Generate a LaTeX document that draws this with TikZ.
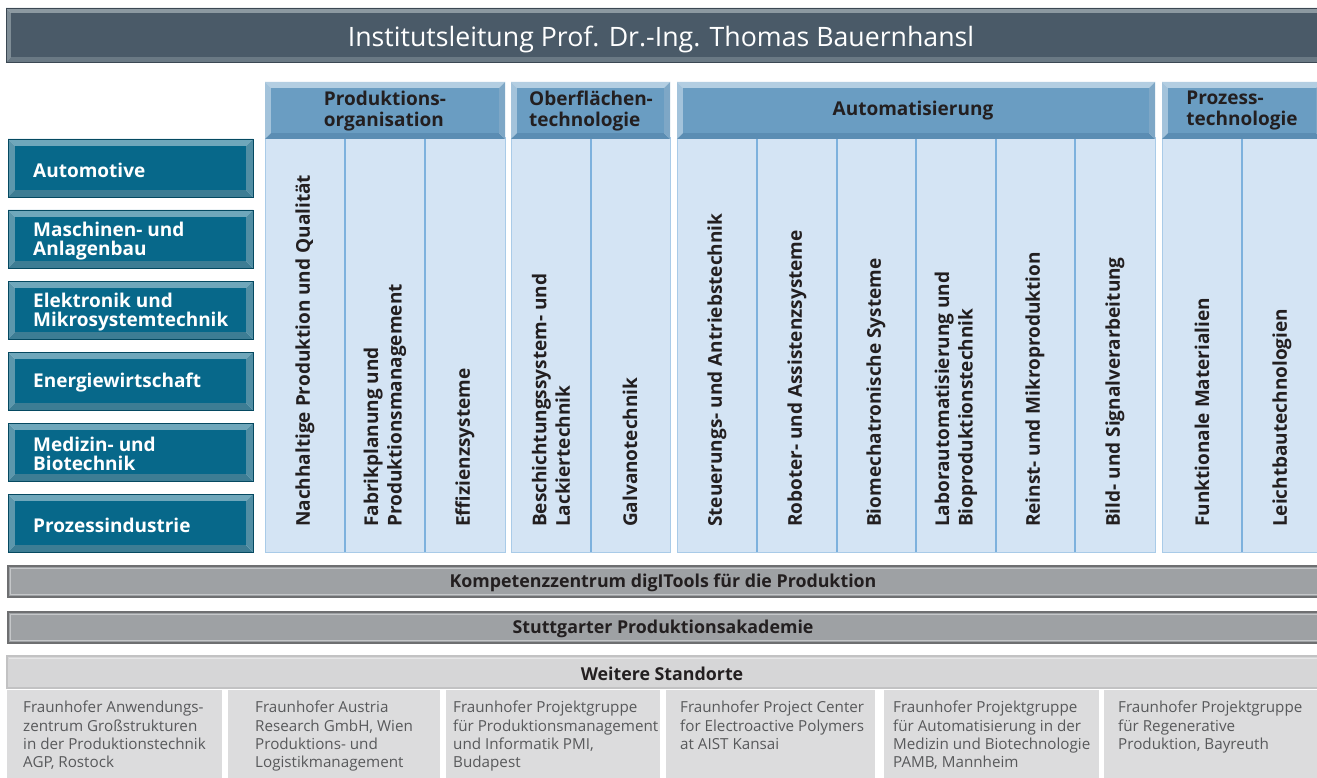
\documentclass[tikz,border=0pt]{standalone}
\usepackage{fontspec}
\setmainfont{Open Sans}
\definecolor{titlebase}{HTML}{4A5A68}
\definecolor{titletop}{HTML}{8C99A1}
\definecolor{titleleft}{HTML}{7F8D96}
\definecolor{titlebot}{HTML}{6A7984}
\definecolor{teal}{HTML}{07688A}
\definecolor{tealtop}{HTML}{6FA7BB}
\definecolor{tealleft}{HTML}{5C97AC}
\definecolor{tealbot}{HTML}{3D7D94}
\definecolor{hdr}{HTML}{6A9DC2}
\definecolor{hdrtop}{HTML}{B3CEE2}
\definecolor{hdrleft}{HTML}{A3C3DB}
\definecolor{hdrbot}{HTML}{5B8DB3}
\definecolor{colfill}{HTML}{D4E4F4}
\definecolor{colline}{HTML}{7DB1DD}
\definecolor{colborder}{HTML}{A9CBE8}
\definecolor{barfill}{HTML}{9EA1A4}
\definecolor{barline}{HTML}{6E6F71}
\definecolor{barlight}{HTML}{C5C7C9}
\definecolor{lbarfill}{HTML}{D6D6D7}
\definecolor{lbarline}{HTML}{C2C2C3}
\definecolor{lbarlight}{HTML}{E6E6E7}
\definecolor{boxfill}{HTML}{DCDCDD}
\definecolor{boxtext}{HTML}{58595B}
\definecolor{ink}{HTML}{231F20}

% bevelled rectangle: x1 y1 x2 y2 inset base top left bottom
\newcommand\bevelrect[9]{%
  \fill[#7] (#1,#2) -- (#3,#2) -- ({#3-#5},{#2+#5}) -- ({#1+#5},{#2+#5}) -- cycle;
  \fill[#8] (#1,#2) -- ({#1+#5},{#2+#5}) -- ({#1+#5},{#4-#5}) -- (#1,#4) -- cycle;
  \fill[#9] (#1,#4) -- ({#1+#5},{#4-#5}) -- ({#3-#5},{#4-#5}) -- (#3,#4) -- cycle;
  \fill[#9!60!#7] (#3,#2) -- (#3,#4) -- ({#3-#5},{#4-#5}) -- ({#3-#5},{#2+#5}) -- cycle;
  \fill[#6] ({#1+#5},{#2+#5}) rectangle ({#3-#5},{#4-#5});
}

\tikzset{
  industry/.style={anchor=west, inner sep=0pt, align=left, text=white,
    font=\fontsize{19}{19.5}\selectfont\bfseries},
  grouphead/.style={inner sep=0pt, align=left, text=ink,
    font=\fontsize{19}{21}\selectfont\bfseries},
  vtext/.style={rotate=90, anchor=west, inner sep=0pt, align=left, text=ink,
    font=\fontsize{19}{23.5}\selectfont\bfseries},
  bartext/.style={inner sep=0pt, text=ink, font=\fontsize{17.8}{17.8}\selectfont\bfseries},
  sitetext/.style={anchor=north west, inner sep=0pt, align=left, text=boxtext,
    font=\fontsize{15.2}{18.3}\selectfont},
}

\begin{document}
\begin{tikzpicture}[x=1pt,y=-1pt]
\useasboundingbox (0,0) rectangle (1317,778);
\clip (0,0) rectangle (1317,778);
\fill[white] (0,0) rectangle (1317,778);

% management bar
\bevelrect{6}{8}{1322}{62}{5}{titlebase}{titletop}{titleleft}{titlebot}
\draw[titlebase!80!black, line width=0.8] (6,8) rectangle (1322,62);
\node[text=white, inner sep=0pt, font=\fontsize{26.7}{26.7}\selectfont] (lead) at (661,39)
  {Institutsleitung Prof. Dr.-Ing. Thomas Bauernhansl};

% industry sectors
\foreach \i/\t [count=\n] in {0/Automotive, 1/{Maschinen- und\\Anlagenbau},
    2/{Elektronik und\\Mikrosystemtechnik}, 3/Energiewirtschaft,
    4/{Medizin- und\\Biotechnik}, 5/Prozessindustrie}{
  \pgfmathsetmacro\ya{139+71*\i}
  \pgfmathsetmacro\yb{\ya+58}
  \bevelrect{8}{\ya}{253}{\yb}{7}{teal}{tealtop}{tealleft}{tealbot}
  \draw[teal!70!black, line width=0.6] (8,\ya) rectangle (253,\yb);
  \node[industry] (sector\n) at (33,{\ya+31}) {\t};
}

% department column bodies
\foreach \xa/\xb/\divs in {265/505/{345,425}, 511/670/{591},
    677/1155/{757,837,916,996,1075}, 1162/1322/{1242}}{
  \fill[colfill] (\xa,138) rectangle (\xb,552);
  \draw[colborder, line width=1] (\xa,138) rectangle (\xb,552);
  \foreach \d in \divs { \draw[colline, line width=2.6] (\d,138) -- (\d,552); }
}

% department headers
\bevelrect{265}{82}{505}{139}{6}{hdr}{hdrtop}{hdrleft}{hdrbot}
\bevelrect{511}{82}{670}{139}{6}{hdr}{hdrtop}{hdrleft}{hdrbot}
\bevelrect{677}{82}{1155}{139}{6}{hdr}{hdrtop}{hdrleft}{hdrbot}
\bevelrect{1162}{82}{1322}{139}{6}{hdr}{hdrtop}{hdrleft}{hdrbot}
\node[grouphead] (dep1) at (385,111) {Produktions-\\organisation};
\node[grouphead] (dep2) at (591,111) {Oberflächen-\\technologie};
\node[grouphead] (dep3) at (913,111) {Automatisierung};
\node[grouphead] (dep4) at (1242,111) {Prozess-\\technologie};

% competence areas
\node[vtext] (a1) at (305,527) {Nachhaltige Produktion und Qualität};
\node[vtext] (a2) at (385,527) {Fabrikplanung und\\Produktionsmanagement};
\node[vtext] (a3) at (465,527) {Effizienzsysteme};
\node[vtext] (a4) at (551,527) {Beschichtungssystem- und\\Lackiertechnik};
\node[vtext] (a5) at (630,527) {Galvanotechnik};
\node[vtext] (a6) at (717,527) {Steuerungs- und Antriebstechnik};
\node[vtext] (a7) at (797,527) {Roboter- und Assistenzsysteme};
\node[vtext] (a8) at (876,527) {Biomechatronische Systeme};
\node[vtext] (a9) at (956,527) {Laborautomatisierung und\\Bioproduktionstechnik};
\node[vtext] (a10) at (1035,527) {Reinst- und Mikroproduktion};
\node[vtext] (a11) at (1115,527) {Bild- und Signalverarbeitung};
\node[vtext] (a12) at (1202,527) {Funktionale Materialien};
\node[vtext] (a13) at (1282,527) {Leichtbautechnologien};

% cross-cutting bars
\foreach \ya/\t/\nm in {566/Kompetenzzentrum digITools für die Produktion/digi,
    612/Stuttgarter Produktionsakademie/akad}{
  \fill[barfill] (8,\ya) rectangle (1322,{\ya+31});
  \draw[barline, line width=1.6] (8,\ya) rectangle (1322,{\ya+31});
  \draw[barlight, line width=0.9] (10.5,{\ya+2.5}) rectangle (1319.5,{\ya+28.5});
  \node[bartext] (\nm) at (663,{\ya+16.5}) {\t};
}

% further sites
\fill[lbarfill] (7,656) rectangle (1322,688);
\draw[lbarline, line width=1.2] (7,656) rectangle (1322,688);
\draw[lbarlight, line width=0.9] (9,658.5) -- (1322,658.5);
\node[bartext] (sites) at (662,674) {Weitere Standorte};

\foreach \xa/\xb/\tx/\t [count=\n] in {
    7/222/23/{Fraunhofer Anwendungs-\\zentrum Großstrukturen\\in der Produktionstechnik\\AGP, Rostock},
    228/440/255/{Fraunhofer Austria\\Research GmbH, Wien\\Produktions- und\\Logistikmanagement},
    446/660/453/{Fraunhofer Projektgruppe\\für Produktionsmanagement\\und Informatik PMI,\\Budapest},
    666/875/680/{Fraunhofer Project Center\\for Electroactive Polymers\\at AIST Kansai},
    884/1099/893/{Fraunhofer Projektgruppe\\für Automatisierung in der\\Medizin und Biotechnologie\\PAMB, Mannheim},
    1104/1322/1118/{Fraunhofer Projektgruppe\\für Regenerative\\Produktion, Bayreuth}}{
  \fill[boxfill] (\xa,689.5) rectangle (\xb,778);
  \node[sitetext] (site\n) at (\tx,701) {\t};
}
\end{tikzpicture}
\end{document}
